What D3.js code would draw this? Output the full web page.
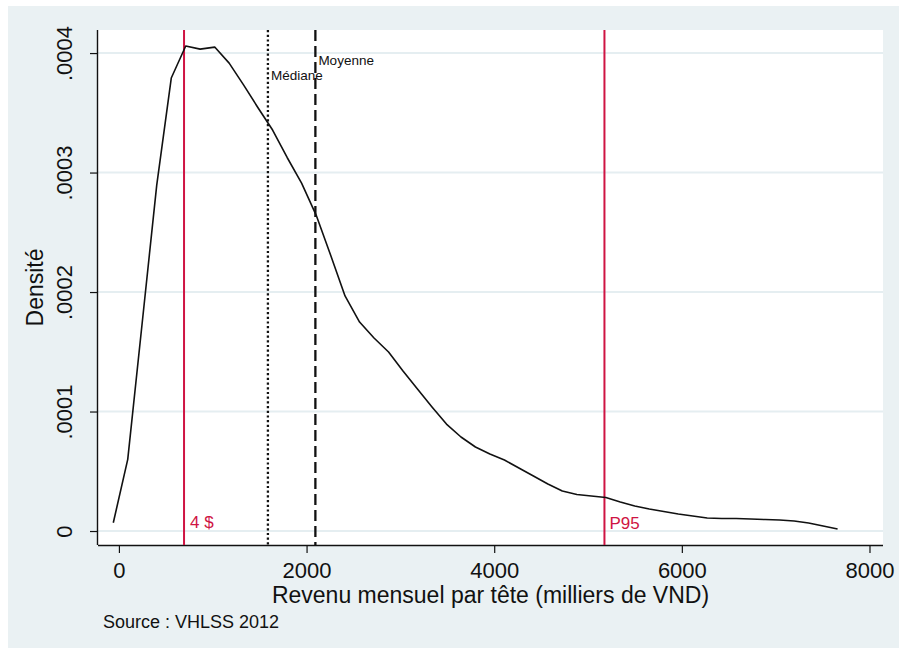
<!DOCTYPE html>
<html lang="fr">
<head>
<meta charset="UTF-8">
<title>Densité du revenu mensuel par tête</title>
<style>
    body { margin: 0; background: #fff; }
    svg text { font-family: "Liberation Sans", Arial, sans-serif; }
</style>
</head>
<body>
<svg width="899" height="648"></svg>
<script src="https://d3js.org/d3.v7.min.js"></script>
<script>
// kernel density (income in thousands of VND)
const revenu = [-60, 94, 249, 403, 558, 712, 866, 1021, 1175, 1330, 1484, 1638, 1793, 1947, 2102,
    2256, 2410, 2565, 2719, 2874, 3028, 3182, 3337, 3491, 3646, 3800, 3954, 4109, 4263, 4418,
    4572, 4726, 4881, 5035, 5190, 5344, 5498, 5653, 5807, 5962, 6116, 6270, 6425, 6579, 6734,
    6888, 7042, 7197, 7351, 7506, 7660];
const densite = [0.0000069, 0.0000600, 0.0001749, 0.0002895, 0.0003791, 0.0004059, 0.0004033,
    0.0004050, 0.0003916, 0.0003732, 0.0003540, 0.0003356, 0.0003126, 0.0002912, 0.0002644,
    0.0002310, 0.0001967, 0.0001749, 0.0001615, 0.0001498, 0.0001339, 0.0001188, 0.0001038,
    0.0000895, 0.0000787, 0.0000703, 0.0000644, 0.0000594, 0.0000527, 0.0000460, 0.0000393,
    0.0000335, 0.0000305, 0.0000293, 0.0000280, 0.0000243, 0.0000209, 0.0000184, 0.0000163,
    0.0000142, 0.0000126, 0.0000109, 0.0000105, 0.0000105, 0.0000100, 0.0000096, 0.0000092,
    0.0000084, 0.0000067, 0.0000042, 0.0000017];

const xTicks = [0, 2000, 4000, 6000, 8000];
const yTicks = [0, 0.0001, 0.0002, 0.0003, 0.0004];
const yTickLabels = ["0", ".0001", ".0002", ".0003", ".0004"];

// reference lines: 4 $ threshold, median, mean, 95th percentile
const refLines = [
    { name: "4 $", value: 694, kind: "red" },
    { name: "Médiane", value: 1588, kind: "dot" },
    { name: "Moyenne", value: 2094, kind: "dash" },
    { name: "P95", value: 5175, kind: "red" }
];

const svg = d3.select("svg");
const red = "#cf1443";
const ink = "#111";
const panel = "#eaf1f3";

// outer stata-like background
svg.append("rect").attr("x", 8).attr("y", 6).attr("width", 891).attr("height", 642).attr("fill", panel);

const plotL = 98, plotR = 883, plotT = 30, plotB = 545;
svg.append("rect").attr("x", plotL).attr("y", plotT).attr("width", plotR - plotL).attr("height", plotB - plotT).attr("fill", "#fff");

const x = d3.scaleLinear().domain([-223, 8144]).range([plotL, plotR]);
const y = d3.scaleLinear().domain([-0.0000117, 0.0004193]).range([plotB, plotT]);

// gridlines
svg.append("g").selectAll("line").data(yTicks).enter().append("line")
    .attr("x1", plotL).attr("x2", plotR)
    .attr("y1", d => y(d)).attr("y2", d => y(d))
    .attr("stroke", "#e5eef1").attr("stroke-width", 2);

// x axis
const xAxis = svg.append("g")
    .attr("transform", `translate(0,${plotB})`)
    .call(d3.axisBottom(x).tickValues(xTicks).tickSize(8).tickPadding(9).tickFormat(d3.format("d")));
xAxis.select(".domain").attr("d", `M${plotL},0.5H${plotR}`).attr("stroke", ink).attr("stroke-width", 1.4);
xAxis.selectAll(".tick line").attr("stroke", ink).attr("stroke-width", 1.2);
xAxis.selectAll(".tick text").attr("font-size", 22).attr("fill", ink)
    .attr("font-family", "Liberation Sans, Arial, sans-serif");

// y axis
const yAxis = svg.append("g")
    .attr("transform", `translate(${plotL},0)`)
    .call(d3.axisLeft(y).tickValues(yTicks).tickSize(8).tickFormat((d, i) => yTickLabels[i]));
yAxis.select(".domain").attr("d", `M-0.5,${plotT}V${plotB}`).attr("stroke", ink).attr("stroke-width", 1.4);
yAxis.selectAll(".tick line").attr("stroke", ink).attr("stroke-width", 1.2);
yAxis.selectAll(".tick text")
    .attr("font-size", 22).attr("fill", ink)
    .attr("font-family", "Liberation Sans, Arial, sans-serif")
    .attr("x", null).attr("dy", null)
    .attr("text-anchor", "middle")
    .attr("transform", "translate(-26,0) rotate(-90)");

// reference lines
const refG = svg.append("g");
refG.selectAll("line").data(refLines).enter().append("line")
    .attr("x1", d => x(d.value)).attr("x2", d => x(d.value))
    .attr("y1", plotT).attr("y2", plotB)
    .attr("stroke", d => d.kind === "red" ? red : ink)
    .attr("stroke-width", d => d.kind === "red" ? 2 : 2.3)
    .attr("stroke-dasharray", d => d.kind === "dot" ? "2.2,2.5" : d.kind === "dash" ? "11,5" : null);

// density curve
const line = d3.line().x((d, i) => x(revenu[i])).y(d => y(d));
svg.append("path").datum(densite)
    .attr("d", line)
    .attr("fill", "none").attr("stroke", ink).attr("stroke-width", 1.6)
    .attr("stroke-linejoin", "round");

// labels on reference lines
refG.append("text").attr("x", x(694) + 6).attr("y", 528).attr("fill", red).attr("font-size", 17).text("4 $");
refG.append("text").attr("x", x(5175) + 5).attr("y", 529).attr("fill", red).attr("font-size", 17).text("P95");
refG.append("text").attr("x", x(1588) + 3).attr("y", 80).attr("fill", ink).attr("font-size", 13.5).text("Médiane");
refG.append("text").attr("x", x(2094) + 3).attr("y", 65).attr("fill", ink).attr("font-size", 13.5).text("Moyenne");

// titles
svg.append("text").attr("x", (plotL + plotR) / 2).attr("y", 603).attr("text-anchor", "middle")
    .attr("fill", ink).attr("font-size", 23).text("Revenu mensuel par tête (milliers de VND)");
svg.append("text").attr("transform", `translate(43,${(plotT + plotB) / 2}) rotate(-90)`)
    .attr("text-anchor", "middle").attr("fill", ink).attr("font-size", 23).text("Densité");
svg.append("text").attr("x", 103).attr("y", 628).attr("fill", ink).attr("font-size", 18).text("Source : VHLSS 2012");
</script>
</body>
</html>
